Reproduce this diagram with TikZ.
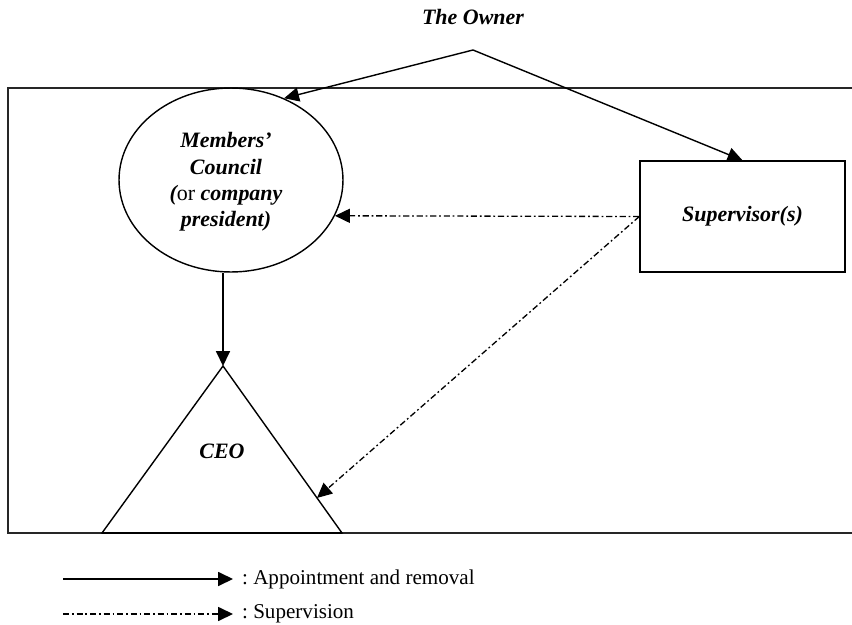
\documentclass[tikz,border=0pt]{standalone}
\usepackage{fontspec}
\setmainfont{Liberation Serif}
\usepackage{tikz}
\usetikzlibrary{shapes.geometric, arrows.meta, positioning, calc}
\tikzset{
  bi/.style={font=\fontsize{12.5}{15}\selectfont\bfseries\itshape, align=center},
  council/.style={ellipse, draw, line width=0.8pt, minimum width=4.48cm,
    minimum height=3.68cm, inner sep=0pt},
  supbox/.style={rectangle, draw, line width=0.8pt, minimum width=4.1cm,
    minimum height=2.22cm, inner sep=0pt},
  legtext/.style={font=\fontsize{12}{14.5}\selectfont, anchor=west, inner sep=5pt},
  arrow/.style={-{Triangle[length=8.5pt,width=8pt]}, line width=0.8pt},
  dashdot/.style={-{Triangle[length=8.5pt,width=8pt]}, line width=0.75pt,
    dash pattern=on 3.5pt off 1.6pt on 1pt off 1.6pt},
  frame/.style={line width=0.9pt, color=black!85}
}

\begin{document}
\begin{tikzpicture}[x=0.02cm, y=-0.02cm]
  \useasboundingbox (0,0) rectangle (852,625);
  % Outer boundary (open on the right)
  \draw[frame] (852,88) -- (8,88) -- (8,533) -- (852,533);

  % The owner
  \node[bi] (owner) at (473,17) {The Owner};
  \coordinate (top) at (473,50);

  % Members' council and supervisor
  \node[council] (mc) at (231,180) {};
  \node[bi] (mctext) at (226,182) {Members'\\Council\\(\textmd{\upshape or} company\\president)};
  \node[supbox, bi] (sup) at (742.5,216.5) {Supervisor(s)};

  % CEO triangle
  \coordinate (apex) at (223,366);
  \coordinate (bl) at (102,533);
  \coordinate (br) at (342,533);
  \draw[line width=0.8pt] (apex) -- (br) -- (bl) -- cycle;
  \draw[line width=1.6pt] (bl) -- (br);
  \node[bi] (ceo) at (222,451) {CEO};
  \coordinate (ceoside) at ($(apex)!0.79!(br)$);

  % Appointment and removal
  \draw[arrow] (top) -- (mc.57);
  \draw[arrow] (top) -- (sup.north);
  \draw[arrow] (apex |- mc.south) -- (apex);

  % Supervision
  \draw[dashdot] (sup.west) -- (mc.-19);
  \draw[dashdot] (sup.west) -- (ceoside);

  % Legend
  \coordinate (l1s) at (63,579);
  \coordinate (l2s) at (63,614);
  \node[legtext] (l1) at (233,579) {:~Appointment and removal};
  \node[legtext] (l2) at (233,614) {:~Supervision};
  \draw[arrow] (l1s) -- (l1.west);
  \draw[dashdot] (l2s) -- (l2.west);
\end{tikzpicture}
\end{document}
